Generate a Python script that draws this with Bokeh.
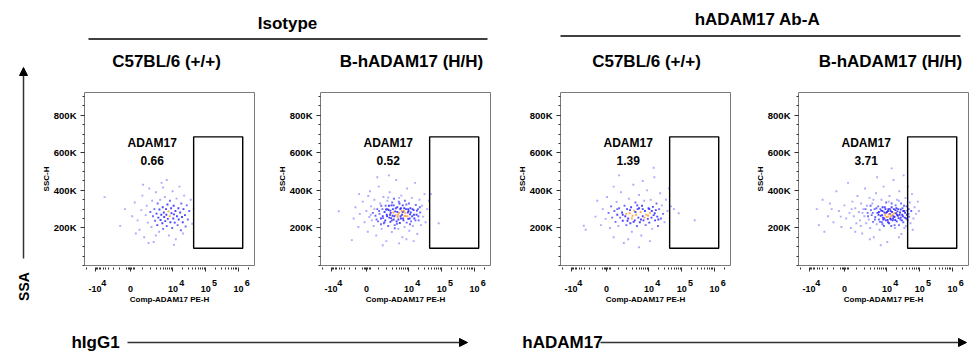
import numpy as np
from bokeh.plotting import figure
from bokeh.models import Range1d, FixedTicker, ColumnDataSource, LinearAxis, Arrow, NormalHead
from bokeh.layouts import row, column
from bokeh.embed import file_html
from bokeh.resources import INLINE
from bokeh.core.properties import value

FONT = "Liberation Sans"

# ---------------- text / data ----------------
group_titles = ["Isotype", "hADAM17 Ab-A"]
panel_titles = ["C57BL/6 (+/+)", "B-hADAM17 (H/H)", "C57BL/6 (+/+)", "B-hADAM17 (H/H)"]
gate_name = "ADAM17"
gate_pct = [0.66, 0.52, 1.39, 3.71]
x_axis_title = "Comp-ADAM17 PE-H"
y_axis_title = "SSC-H"
side_title = "SSA"
bottom_titles = ["hIgG1", "hADAM17"]

y_ticks_k = [200, 400, 600, 800]
y_tick_labels = ["200K", "400K", "600K", "800K"]
x_tick_values = [-1e4, 0, 1e4, 1e5, 1e6]
x_tick_bases = ["-10", "0", "10", "10", "10"]
x_tick_exps = ["4", "", "4", "5", "6"]

# gate (x in biexponential display units, y in K)
gate_x = [1.74, 3.09]
gate_y = [92, 685]

# events: (biex display x, SSC-H in K)
cells_c57_iso = [
    (-0.71, 364), (-0.28, 211), (-0.15, 300), (0.05, 262), (0.12, 335), (0.2, 240), (0.25, 190), (0.3, 295), (0.33, 372), (0.38, 150),
    (0.42, 268), (0.45, 318), (0.48, 228), (0.52, 410), (0.55, 285), (0.58, 205), (0.6, 345), (0.62, 262), (0.64, 125), (0.66, 300),
    (0.68, 238), (0.7, 390), (0.72, 276), (0.74, 215), (0.75, 330), (0.77, 255), (0.79, 180), (0.8, 298), (0.82, 350), (0.83, 242),
    (0.85, 270), (0.86, 440), (0.88, 225), (0.89, 310), (0.9, 195), (0.92, 282), (0.93, 258), (0.95, 365), (0.96, 236), (0.98, 300),
    (0.99, 270), (1.0, 210), (1.02, 325), (1.03, 248), (1.05, 288), (1.06, 160), (1.08, 262), (1.09, 345), (1.1, 230), (1.12, 305),
    (1.13, 278), (1.15, 200), (1.16, 395), (1.18, 250), (1.19, 318), (1.2, 272), (1.22, 228), (1.24, 290), (1.25, 140), (1.27, 356),
    (1.28, 262), (1.3, 215), (1.32, 305), (1.33, 245), (1.35, 420), (1.37, 282), (1.39, 188), (1.4, 330), (1.42, 258), (1.44, 230),
    (1.46, 300), (1.48, 372), (1.5, 268), (1.52, 208), (1.55, 320), (1.58, 245), (1.62, 290), (1.66, 350), (1.7, 222), (1.74, 300),
    (0.15, 170), (0.5, 120), (1.0, 455), (1.2, 110), (0.35, 430), (0.7, 160), (1.45, 170), (0.9, 415),
]
cells_hu_iso = [
    (-0.76, 289), (-0.4, 135), (-0.35, 250), (-0.3, 310), (-0.22, 205), (-0.18, 275), (-0.1, 340), (-0.05, 230), (0.0, 290), (0.04, 180),
    (0.08, 258), (0.1, 395), (0.13, 315), (0.15, 240), (0.18, 280), (0.2, 210), (0.22, 350), (0.25, 265), (0.27, 160), (0.3, 300),
    (0.32, 235), (0.34, 420), (0.36, 275), (0.38, 330), (0.4, 250), (0.42, 195), (0.44, 300), (0.45, 262), (0.47, 365), (0.48, 225),
    (0.5, 285), (0.52, 240), (0.53, 318), (0.55, 130), (0.56, 270), (0.58, 345), (0.6, 210), (0.61, 295), (0.63, 255), (0.64, 390),
    (0.66, 232), (0.67, 280), (0.69, 320), (0.7, 178), (0.72, 265), (0.73, 300), (0.75, 245), (0.76, 355), (0.78, 215), (0.79, 288),
    (0.8, 268), (0.82, 455), (0.83, 235), (0.85, 310), (0.86, 258), (0.88, 195), (0.89, 340), (0.9, 280), (0.92, 226), (0.93, 300),
    (0.95, 250), (0.96, 372), (0.98, 270), (0.99, 150), (1.0, 320), (1.02, 240), (1.03, 290), (1.05, 205), (1.06, 345), (1.08, 262),
    (1.09, 300), (1.11, 228), (1.12, 410), (1.14, 282), (1.15, 248), (1.17, 330), (1.18, 185), (1.2, 272), (1.21, 305), (1.23, 235),
    (1.25, 360), (1.26, 262), (1.28, 210), (1.3, 295), (1.32, 250), (1.34, 440), (1.36, 322), (1.38, 270), (1.4, 168), (1.42, 300),
    (1.44, 240), (1.46, 350), (1.48, 282), (1.5, 215), (1.53, 318), (1.56, 260), (1.6, 380), (1.63, 230), (1.67, 300), (1.72, 345),
    (1.78, 380), (1.99, 225), (0.3, 470), (0.62, 480), (0.9, 118), (1.3, 130), (0.45, 108), (1.1, 140), (0.05, 370), (-0.2, 380),
    (0.58, 300), (0.7, 240), (0.85, 285), (0.95, 305), (1.05, 265), (0.75, 320), (0.65, 270), (1.15, 300), (0.88, 245), (1.0, 285),
    (0.12, 270), (0.22, 300), (0.28, 245), (0.35, 290), (0.41, 318), (0.46, 252), (0.5, 230), (0.54, 298), (0.57, 262), (0.62, 318),
    (0.66, 292), (0.68, 252), (0.71, 335), (0.74, 282), (0.77, 262), (0.81, 305), (0.84, 222), (0.87, 270), (0.91, 330), (0.94, 262),
    (0.97, 290), (1.01, 250), (1.04, 305), (1.07, 280), (1.1, 325), (1.13, 262), (1.16, 290), (1.19, 250), (1.22, 282), (1.27, 300),
    (1.31, 270), (1.35, 240), (1.39, 292), (1.43, 262), (1.47, 310), (0.6, 362), (0.9, 360), (0.4, 220), (1.2, 220), (0.78, 198),
]
cells_c57_ab = [
    (-0.62, 212), (-0.57, 190), (-0.3, 260), (-0.25, 345), (-0.15, 215), (-0.1, 300), (-0.02, 248), (0.02, 365), (0.06, 280), (0.1, 200),
    (0.13, 315), (0.16, 255), (0.2, 150), (0.22, 290), (0.25, 232), (0.28, 338), (0.3, 270), (0.33, 210), (0.35, 305), (0.38, 255),
    (0.4, 390), (0.43, 282), (0.45, 238), (0.48, 120), (0.5, 318), (0.52, 262), (0.55, 215), (0.57, 300), (0.6, 250), (0.62, 355),
    (0.64, 278), (0.66, 225), (0.68, 310), (0.7, 180), (0.72, 265), (0.74, 430), (0.76, 292), (0.78, 240), (0.8, 335), (0.82, 270),
    (0.84, 210), (0.86, 300), (0.88, 255), (0.9, 375), (0.92, 230), (0.94, 285), (0.96, 160), (0.98, 318), (1.0, 262), (1.02, 240),
    (1.04, 345), (1.06, 290), (1.08, 215), (1.1, 270), (1.12, 400), (1.14, 248), (1.16, 305), (1.18, 228), (1.2, 280), (1.22, 350),
    (1.24, 255), (1.26, 195), (1.28, 312), (1.3, 268), (1.32, 470), (1.34, 240), (1.36, 295), (1.38, 330), (1.4, 260), (1.42, 210),
    (1.45, 300), (1.48, 385), (1.5, 250), (1.53, 320), (1.56, 275), (1.6, 230), (1.64, 350), (1.68, 290), (1.72, 410), (1.78, 315),
    (1.86, 300), (1.99, 278), (2.43, 241), (0.35, 480), (0.9, 97), (1.2, 130), (0.6, 140), (1.3, 520), (1.0, 450), (0.2, 420),
    (0.8, 285), (1.0, 300), (0.7, 250), (1.15, 265), (0.95, 245), (0.55, 275), (1.25, 290), (0.85, 320),
    (0.3, 300), (0.45, 270), (0.65, 295), (0.75, 232), (0.9, 305), (1.05, 255), (1.18, 300), (1.33, 278), (1.43, 245), (0.58, 238),
]
cells_hu_ab = [
    (-0.76, 300), (-0.7, 215), (-0.6, 350), (-0.55, 180), (-0.45, 262), (-0.4, 330), (-0.3, 230), (-0.22, 395), (-0.15, 290), (-0.08, 205),
    (0.0, 320), (0.05, 250), (0.1, 440), (0.14, 280), (0.18, 200), (0.22, 340), (0.26, 262), (0.3, 305), (0.33, 225), (0.36, 370),
    (0.4, 285), (0.43, 240), (0.46, 330), (0.49, 170), (0.52, 300), (0.55, 262), (0.57, 410), (0.6, 225), (0.62, 318), (0.64, 280),
    (0.67, 245), (0.69, 360), (0.71, 200), (0.73, 295), (0.75, 268), (0.77, 330), (0.79, 232), (0.81, 150), (0.83, 300), (0.85, 258),
    (0.87, 385), (0.89, 220), (0.91, 280), (0.93, 315), (0.95, 245), (0.97, 190), (0.99, 300), (1.0, 265), (1.02, 350), (1.03, 230),
    (1.05, 290), (1.06, 255), (1.08, 420), (1.09, 210), (1.11, 310), (1.12, 270), (1.14, 240), (1.15, 335), (1.17, 285), (1.18, 125),
    (1.2, 260), (1.21, 300), (1.23, 225), (1.24, 370), (1.26, 250), (1.27, 290), (1.29, 210), (1.3, 330), (1.32, 270), (1.33, 240),
    (1.35, 455), (1.36, 300), (1.38, 258), (1.39, 200), (1.41, 320), (1.42, 278), (1.44, 235), (1.45, 350), (1.47, 265), (1.48, 300),
    (1.5, 215), (1.51, 395), (1.53, 282), (1.54, 245), (1.56, 330), (1.57, 168), (1.59, 270), (1.6, 305), (1.62, 230), (1.63, 480),
    (1.65, 290), (1.66, 255), (1.68, 360), (1.69, 210), (1.71, 315), (1.72, 270), (1.74, 240), (1.75, 420), (1.77, 300), (1.78, 260),
    (1.8, 335), (1.82, 225), (1.84, 290), (1.86, 380), (1.9, 250), (1.93, 310), (1.97, 275), (2.02, 340), (2.05, 290), (1.88, 190),
    (1.0, 108), (0.7, 140), (1.3, 517), (1.5, 150), (0.9, 470), (0.3, 180), (1.2, 290), (1.25, 275), (1.35, 262), (1.28, 245),
    (1.15, 280), (1.4, 295), (1.1, 250), (1.45, 270), (1.3, 310), (1.2, 230), (1.05, 310), (1.55, 255), (1.62, 290), (0.95, 285),
    (0.5, 280), (0.58, 300), (0.65, 262), (0.72, 318), (0.78, 280), (0.84, 245), (0.88, 305), (0.94, 270), (0.98, 232), (1.01, 292),
    (1.04, 268), (1.07, 245), (1.1, 282), (1.13, 300), (1.16, 258), (1.19, 242), (1.22, 272), (1.25, 300), (1.28, 262), (1.31, 285),
    (1.34, 250), (1.37, 278), (1.4, 242), (1.43, 305), (1.46, 288), (1.49, 252), (1.52, 270), (1.55, 298), (1.58, 240), (1.61, 262),
    (1.64, 318), (1.67, 280), (1.7, 250), (1.73, 292), (1.76, 275), (1.22, 340), (1.05, 220), (1.5, 345), (0.8, 350), (1.38, 215),
    (-0.35, 300), (-0.1, 260), (0.2, 300), (0.45, 210), (1.65, 200),
]
panels = [cells_c57_iso, cells_hu_iso, cells_c57_ab, cells_hu_ab]

# ---------------- scales ----------------
LN10 = np.log(10.0)


def biex(v):
    v = np.asarray(v, dtype=float)
    a = np.where(v < 0, 0.9 * 0.83, 0.9)
    return a * np.arcsinh(v / 1000.0) / LN10


FRAME_W = 173
X_RANGE = (-1.262, 3.414)
PX_PER_UNIT = FRAME_W / (X_RANGE[1] - X_RANGE[0])
EXP_SHIFT = 9.0 / PX_PER_UNIT           # exponent sits to the right of the "10"
Y_MAX = 921

minor_vals = []
for k in (3, 4, 5):
    for m in range(2, 10):
        minor_vals.append(m * 10 ** k)
minor_vals += [1000, 2e6, 100, 200, 300, -100, -200, -300, -2e4, -3e4]
minor_vals += [-m * 1000 for m in range(1, 10)]
minor_pos = [float(t) for t in biex(minor_vals) if X_RANGE[0] < t < X_RANGE[1]]
major_pos = [float(t) for t in biex(x_tick_values)]


def density_colors(x, y):
    dx = (x[:, None] - x[None, :]) / 0.2
    dy = (y[:, None] - y[None, :]) / 45.0
    n = ((dx ** 2 + dy ** 2) < 1).sum(1)
    q = n / n.max()
    cols = np.where(q > 0.9, "#ff9a2e",
           np.where(q > 0.55, "#2a22ff",
           np.where(q > 0.3, "#5050ff", "#9c9cff")))
    return list(cols)


def style_text(kw):
    kw.update(text_font=value(FONT), text_font_style="bold", text_color="black")
    return kw


def label_style(ax, size):
    ax.major_label_text_font = FONT
    ax.major_label_text_font_style = "bold"
    ax.major_label_text_font_size = size
    ax.major_label_text_color = "black"


def no_ticks(ax):
    ax.axis_line_color = None
    ax.major_tick_line_color = None
    ax.minor_tick_line_color = None
    ax.major_tick_in = 0
    ax.major_tick_out = 0
    ax.minor_tick_in = 0
    ax.minor_tick_out = 0


def make_panel(i, left_b, right_b):
    pts = np.array(panels[i], dtype=float)
    p = figure(width=left_b + FRAME_W + right_b, height=219,
               x_range=Range1d(*X_RANGE), y_range=Range1d(0, Y_MAX),
               output_backend="svg", toolbar_location=None,
               min_border_left=left_b, min_border_right=right_b,
               min_border_top=1, min_border_bottom=45)
    p.grid.visible = False
    p.outline_line_color = "#7a7a7a"
    p.outline_line_width = 1
    p.background_fill_color = "white"
    p.border_fill_color = "white"
    p.extra_x_ranges = {"exp": Range1d(X_RANGE[0] - EXP_SHIFT, X_RANGE[1] - EXP_SHIFT)}

    # axis A: tick marks only
    xa = p.xaxis[0]
    xa.ticker = FixedTicker(ticks=major_pos, minor_ticks=minor_pos)
    xa.major_label_overrides = {mp: "" for mp in major_pos}
    xa.axis_line_color = None
    xa.major_tick_in = -2
    xa.major_tick_out = 6
    xa.minor_tick_in = -2
    xa.minor_tick_out = 4
    xa.major_tick_line_color = "#303030"
    xa.minor_tick_line_color = "#303030"
    label_style(xa, "1px")
    xa.major_label_standoff = 0

    # axis B: exponents of the tick labels
    xb = LinearAxis(x_range_name="exp", ticker=FixedTicker(ticks=major_pos))
    no_ticks(xb)
    xb.major_label_overrides = {mp: e for mp, e in zip(major_pos, x_tick_exps)}
    label_style(xb, "9px")
    xb.major_label_standoff = 8
    p.add_layout(xb, "below")

    # axis C: bases of the tick labels + title
    xc = LinearAxis(ticker=FixedTicker(ticks=major_pos))
    no_ticks(xc)
    xc.major_label_overrides = {mp: b for mp, b in zip(major_pos, x_tick_bases)}
    label_style(xc, "9px")
    xc.major_label_standoff = -3
    xc.axis_label = x_axis_title
    xc.axis_label_text_font = FONT
    xc.axis_label_text_font_style = "bold"
    xc.axis_label_text_font_size = "8px"
    xc.axis_label_text_color = "black"
    xc.axis_label_standoff = 0
    p.add_layout(xc, "below")

    ya = p.yaxis[0]
    ya.ticker = FixedTicker(ticks=y_ticks_k, minor_ticks=list(range(0, 951, 50)))
    ya.major_label_overrides = {t: l for t, l in zip(y_ticks_k, y_tick_labels)}
    ya.axis_line_color = None
    ya.major_tick_in = 0
    ya.major_tick_out = 4
    ya.minor_tick_in = 0
    ya.minor_tick_out = 2
    ya.major_tick_line_color = "#303030"
    ya.minor_tick_line_color = "#303030"
    label_style(ya, "9.5px")
    ya.major_label_standoff = 4
    ya.axis_label = y_axis_title
    ya.axis_label_text_font = FONT
    ya.axis_label_text_font_style = "bold"
    ya.axis_label_text_font_size = "8px"
    ya.axis_label_text_color = "black"
    ya.axis_label_standoff = 0

    # events
    xs, ys = pts[:, 0], pts[:, 1]
    src = ColumnDataSource(dict(x=xs, y=ys, c=density_colors(xs, ys)))
    p.scatter("x", "y", source=src, marker="square", size=1.9, fill_color="c",
              line_color=None, fill_alpha=0.85)

    # gate
    p.quad(left=[gate_x[0]], right=[gate_x[1]], bottom=[gate_y[0]], top=[gate_y[1]],
           fill_color=None, line_color="black", line_width=1.4)
    p.text(x=[0.6, 0.6], y=[651, 561], text=[gate_name, f"{gate_pct[i]:.2f}"],
           text_align="center", text_baseline="middle", text_font_size="12px",
           **style_text({}))
    return p


def blank(width, height, xr, yr):
    f = figure(width=width, height=height, x_range=Range1d(*xr), y_range=Range1d(*yr),
               output_backend="svg", toolbar_location=None,
               x_axis_location=None, y_axis_location=None,
               min_border=0, min_border_left=0, min_border_right=0,
               min_border_top=0, min_border_bottom=0)
    f.grid.visible = False
    f.outline_line_color = None
    return f


H = 360  # page height (y = H - ref_y)

# header
hdr = blank(940, 91, (38, 978), (H - 91, H))
hdr.text(x=[287, 757], y=[H - 22.5, H - 18.8], text=group_titles, text_align="center",
         text_baseline="middle", text_font_size="17px", **style_text({}))
hdr.segment(x0=[88, 560], y0=[H - 38.5, H - 35.5], x1=[487, 960], y1=[H - 38.5, H - 35.5],
            line_color="black", line_width=1.3)
hdr.text(x=[166, 411, 646, 890], y=[H - 60.7] * 4, text=panel_titles, text_align="center",
         text_baseline="middle", text_font_size="17px", **style_text({}))

# side
side = blank(38, 360, (0, 38), (0, 360))
side.add_layout(Arrow(end=NormalHead(size=8, fill_color="black", line_color="black"),
                      x_start=23, y_start=H - 258, x_end=23, y_end=H - 67,
                      line_color="#333333", line_width=1.5))
side.text(x=[23], y=[H - 286], text=[side_title], angle=np.pi / 2, text_align="center",
          text_baseline="middle", text_font_size="14px", **style_text({}))

# footer
ftr = blank(940, 50, (38, 978), (0, 50))
ftr.text(x=[95, 562], y=[H - 342, H - 342], text=bottom_titles, text_align="center",
         text_baseline="middle", text_font_size="17px", **style_text({}))
for xs0, xs1 in ((127, 467), (600, 966)):
    ftr.add_layout(Arrow(end=NormalHead(size=8, fill_color="black", line_color="black"),
                         x_start=xs0, y_start=H - 342, x_end=xs1, y_end=H - 342,
                         line_color="#333333", line_width=1.5))

p1 = make_panel(0, 43, 20)
p2 = make_panel(1, 43, 24)
p3 = make_panel(2, 43, 22)
p4 = make_panel(3, 43, 10)

layout = row(side, column(hdr, row(p1, p2, p3, p4), ftr))

open("out.html", "w").write(file_html(layout, INLINE))
